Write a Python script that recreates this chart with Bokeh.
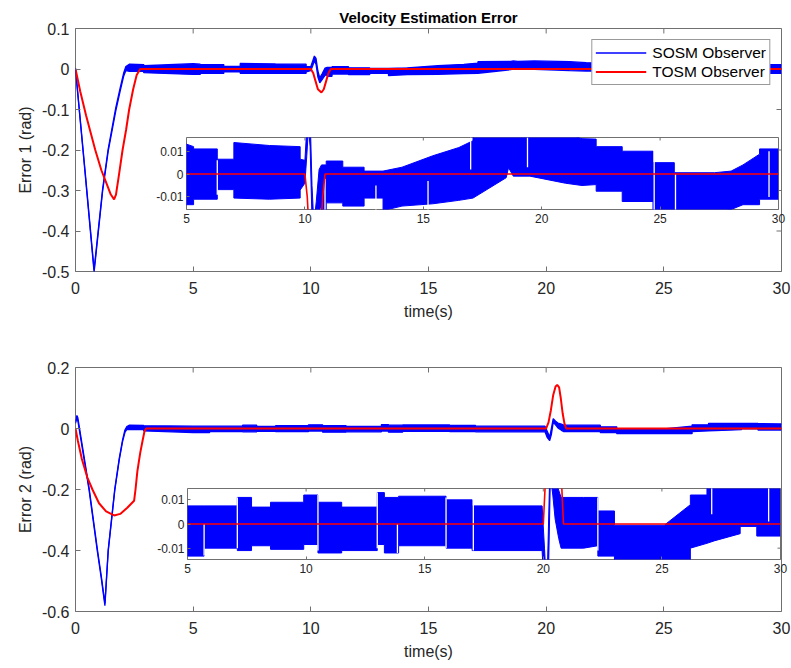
from bokeh.plotting import figure
from bokeh.models import (Range1d, FixedTicker, PrintfTickFormatter,
                          LinearAxis, Legend, LegendItem)
from bokeh.embed import file_html
from bokeh.resources import INLINE

# ---------------- data ----------------
x_ticks = [0, 5, 10, 15, 20, 25, 30]
inset_x_ticks = [5, 10, 15, 20, 25, 30]
e1_ticks = [-0.5, -0.4, -0.3, -0.2, -0.1, 0, 0.1]
e2_ticks = [-0.6, -0.4, -0.2, 0, 0.2]
inset_y_ticks = [-0.01, 0, 0.01]

# SOSM observer, error 1: time, lower / upper edge of the chattering band
sosm1_t = [0, 0.4, 0.79, 1.15, 1.39, 1.71, 1.9, 2.05, 2.14,
           2.3, 2.9, 2.9, 5.0, 5.3, 5.3, 6.3, 6.3, 7.0, 7.0, 8.5, 9.8, 9.8,
           10.0, 10.08, 10.15, 10.22, 10.3, 10.38, 10.48, 10.6, 10.7, 10.7, 10.9, 10.9,
           11.6, 11.6, 12.5, 12.5, 13.3, 13.3, 14.1, 15.4, 16.5, 17.1, 17.1,
           18.5, 18.6, 18.8, 19.5, 21.0, 21.7, 22.3, 22.3, 23.4, 23.4, 24.7, 24.7,
           25.6, 25.6, 27.3, 28.0, 28.5, 29.2, 29.2, 30.0]
sosm1_lo = [-0.002, -0.253, -0.502, -0.303, -0.203, -0.104, -0.054, -0.017, -0.004,
            -0.006, -0.006, -0.009, -0.0134, -0.0134, -0.011, -0.011, -0.0068, -0.0068, -0.0105, -0.011, -0.0105, -0.007,
            -0.004, 0.008, 0.02, 0.012, -0.02, -0.034, -0.026, -0.016, -0.014, -0.018, -0.018, -0.0126,
            -0.0126, -0.014, -0.014, -0.0105, -0.0105, -0.016, -0.014, -0.013, -0.0115, -0.0105, -0.0105,
            -0.0016, 0.0028, -0.0009, -0.0009, -0.004, -0.005, -0.0046, -0.0075, -0.0075, -0.012, -0.012, -0.016,
            -0.016, -0.017, -0.017, -0.0155, -0.0134, -0.0134, -0.011, -0.011]
sosm1_hi = [0.002, -0.247, -0.495, -0.297, -0.197, -0.096, -0.046, -0.009, 0.006,
            0.012, 0.011, 0.008, 0.0131, 0.012, 0.011, 0.011, 0.0065, 0.0065, 0.0138, 0.0125, 0.012, 0.0065,
            0.006, 0.02, 0.032, 0.026, -0.005, -0.022, -0.012, 0.002, 0.004, 0.004, 0.004, 0.0057,
            0.0057, 0.003, 0.003, 0.0013, 0.0013, 0.0013, 0.003, 0.008, 0.0116, 0.0146, 0.018,
            0.019, 0.02, 0.019, 0.02, 0.018, 0.0155, 0.0153, 0.012, 0.012, 0.01, 0.01, 0.005,
            0.005, 0.0006, 0.0006, 0.0013, 0.004, 0.0087, 0.011, 0.011]

# TOSM observer, error 1
tosm1_t = [0, 0.2, 0.45, 0.84, 1.1, 1.3, 1.5, 1.64, 1.72, 1.85, 2.0, 2.15, 2.28, 2.45, 2.6, 2.75,
           10.0, 10.1, 10.2, 10.3, 10.45, 10.55, 10.65, 10.75, 10.85, 30.0]
tosm1_v = [0, -0.055, -0.115, -0.2, -0.25, -0.28, -0.31, -0.322, -0.31, -0.26, -0.2, -0.15, -0.1, -0.05, -0.015, 0,
           0, -0.01, -0.03, -0.05, -0.058, -0.05, -0.03, -0.01, 0, 0]

# white gaps inside the band (inset 1): time, from, to
gap1_t = [6.3, 10.85, 13.0, 15.2, 17.0, 19.4, 24.75, 25.65, 29.6]
gap1_lo = [-0.009, -0.016, -0.016, -0.016, 0.002, 0.003, -0.016, -0.016, -0.01]
gap1_hi = [0.006, -0.002, -0.005, -0.003, 0.016, 0.016, 0.01, 0.0, 0.01]

# SOSM observer, error 2
sosm2_t = [0, 0.06, 0.1, 0.58, 0.93, 1.1, 1.25, 1.39, 1.67, 1.86, 2.0, 2.1, 2.18,
           2.3, 2.9, 2.9, 5.0, 5.7, 5.7, 7.1, 7.1, 7.7, 7.7, 8.5, 8.5, 9.9, 9.9, 10.5, 10.5,
           11.5, 11.5, 13.0, 13.0, 13.3, 13.3, 13.9, 13.9, 15.9, 15.9, 17.0, 17.0,
           19.95, 20.05, 20.15, 20.22, 20.3, 20.4, 20.5, 20.65, 20.75, 21.7, 22.3, 22.3,
           23.0, 23.0, 25.1, 26.2, 26.2, 26.9, 26.9, 27.2, 28.3, 28.3, 29.0, 29.0, 30.0]
sosm2_lo = [0.017, 0.035, 0.025, -0.204, -0.404, -0.494, -0.581, -0.403, -0.203, -0.103, -0.043, -0.013, -0.003,
            -0.004, -0.004, -0.008, -0.0133, -0.0133, -0.01, -0.01, -0.011, -0.011, -0.009, -0.009, -0.0105, -0.0105, -0.0085, -0.0085, -0.012,
            -0.012, -0.011, -0.011, -0.0085, -0.0085, -0.012, -0.012, -0.009, -0.009, -0.01, -0.01, -0.011,
            -0.011, -0.03, -0.04, -0.02, 0.02, 0.012, 0.002, -0.006, -0.01, -0.01, -0.009, -0.0133,
            -0.0133, -0.017, -0.017, -0.017, -0.01, -0.008, -0.008, -0.007, -0.004, -0.001, -0.001, -0.005, -0.005]
sosm2_hi = [0.023, 0.043, 0.035, -0.196, -0.396, -0.486, -0.573, -0.397, -0.197, -0.097, -0.037, -0.005, 0.006,
            0.011, 0.01, 0.009, 0.0075, 0.0075, 0.0075, 0.0075, 0.011, 0.011, 0.007, 0.007, 0.009, 0.009, 0.012, 0.012, 0.009,
            0.009, 0.007, 0.007, 0.013, 0.013, 0.011, 0.011, 0.0115, 0.0115, 0.01, 0.01, 0.0075,
            0.0075, -0.01, -0.028, 0.0, 0.032, 0.024, 0.018, 0.014, 0.011, 0.011, 0.011, 0.0054,
            0.0054, -0.0005, -0.0005, 0.008, 0.012, 0.012, 0.017, 0.017, 0.017, 0.017, 0.017, 0.016, 0.015]

# TOSM observer, error 2
tosm2_t = [0, 0.1, 0.27, 0.5, 0.72, 1.0, 1.3, 1.64, 1.9, 2.2, 2.49, 2.55, 2.63, 2.75, 2.85, 2.93, 3.0,
           20.0, 20.1, 20.2, 20.3, 20.4, 20.47, 20.55, 20.62, 20.7, 20.78, 20.85, 30.0]
tosm2_v = [0, -0.04, -0.1, -0.16, -0.2, -0.245, -0.272, -0.285, -0.28, -0.26, -0.237, -0.2, -0.14, -0.08, -0.04, -0.01, 0,
           0, 0.02, 0.06, 0.11, 0.138, 0.143, 0.135, 0.1, 0.05, 0.015, 0, 0]

gap2_t = [5.7, 7.1, 10.5, 13.0, 13.85, 15.9, 17.05, 22.3, 27.1, 29.5]
gap2_lo = [-0.013, -0.01, -0.011, -0.01, -0.012, -0.01, -0.011, -0.011, 0.004, 0.001]
gap2_hi = [0.0, 0.011, 0.012, 0.013, 0.0, 0.011, 0.01, 0.011, 0.015, 0.015]

for a, b, c in ((sosm1_t, sosm1_lo, sosm1_hi), (sosm2_t, sosm2_lo, sosm2_hi)):
    assert len(a) == len(b) == len(c), (len(a), len(b), len(c))

# ---------------- styling ----------------
W, H = 791, 668
FONT = "Liberation Sans"
TXT = "#262626"
BOX = "#707070"
BLUE = "#0000ff"
RED = "#ff0000"


def make_fig(xr, yr, xticks, yticks, borders, fs, tick_len, xstand, ystand):
    L, R, T, B = borders
    p = figure(width=W, height=H, x_range=Range1d(*xr), y_range=Range1d(*yr),
               output_backend="svg", toolbar_location=None,
               x_axis_type=None, y_axis_type=None,
               min_border_left=L, min_border_right=R, min_border_top=T, min_border_bottom=B)
    p.styles = {"position": "absolute", "left": "0px", "top": "0px"}
    p.border_fill_color = None
    p.background_fill_color = "white"
    p.outline_line_color = BOX
    p.outline_line_width = 1
    axes = {}
    for loc, ticks in (("below", xticks), ("left", yticks)):
        ax = LinearAxis(ticker=FixedTicker(ticks=ticks), formatter=PrintfTickFormatter(format="%g"))
        ax.axis_line_color = None
        ax.major_tick_in = tick_len
        ax.major_tick_out = 0
        ax.major_tick_line_color = BOX
        ax.minor_tick_line_color = None
        ax.major_label_text_font = FONT
        ax.major_label_text_color = TXT
        ax.major_label_text_font_size = fs
        ax.major_label_standoff = xstand if loc == "below" else ystand
        p.add_layout(ax, loc)
        axes[loc] = ax
    # box ticks on the top and right edges (no labels), pointing inwards
    p.ray(x=xticks, y=[yr[1]] * len(xticks), length=tick_len, length_units="screen",
          angle=-90, angle_units="deg", line_color=BOX, line_width=1)
    p.ray(x=[xr[1]] * len(yticks), y=yticks, length=tick_len, length_units="screen",
          angle=180, angle_units="deg", line_color=BOX, line_width=1)
    return p, axes


def style_label(ax, text, standoff):
    ax.axis_label = text
    ax.axis_label_text_font = FONT
    ax.axis_label_text_font_size = "16px"
    ax.axis_label_text_font_style = "normal"
    ax.axis_label_text_color = TXT
    ax.axis_label_standoff = standoff


# ---------------- main plot 1 ----------------
p1, a1 = make_fig((0, 30), (-0.5, 0.1), x_ticks, e1_ticks, (75, 10, 28, 397), "16px", 5, 10, 6)
style_label(a1["below"], "time(s)", 6)
style_label(a1["left"], "Error 1 (rad)", 5)
p1.varea(x=sosm1_t, y1=sosm1_lo, y2=sosm1_hi, fill_color=BLUE)
rb1 = p1.line(sosm1_t, sosm1_hi, line_color=BLUE, line_width=1.3)
p1.line(sosm1_t, sosm1_lo, line_color=BLUE, line_width=1.3)
rr1 = p1.line(tosm1_t, tosm1_v, line_color=RED, line_width=2)
legend = Legend(items=[LegendItem(label="SOSM Observer", renderers=[rb1]),
                       LegendItem(label="TOSM Observer", renderers=[rr1])],
                location="top_right", margin=11, padding=3, spacing=0,
                glyph_width=51, glyph_height=19, label_height=19, label_standoff=6,
                label_text_font=FONT, label_text_font_size="15.5px", label_text_color="#000000",
                border_line_color="#333333", border_line_width=1,
                background_fill_color="white", background_fill_alpha=1)
p1.add_layout(legend)
p1.title.text = "Velocity Estimation Error"
p1.title.align = "center"
p1.title.text_font = FONT
p1.title.text_font_size = "15px"
p1.title.text_font_style = "bold"
p1.title.text_color = "#000000"
p1.title.standoff = 6

# ---------------- main plot 2 ----------------
p2, a2 = make_fig((0, 30), (-0.6, 0.2), x_ticks, e2_ticks, (75, 10, 367, 57), "16px", 5, 10, 6)
style_label(a2["below"], "time(s)", 6)
style_label(a2["left"], "Error 2 (rad)", 5)
p2.varea(x=sosm2_t, y1=sosm2_lo, y2=sosm2_hi, fill_color=BLUE)
p2.line(sosm2_t, sosm2_hi, line_color=BLUE, line_width=1.3)
p2.line(sosm2_t, sosm2_lo, line_color=BLUE, line_width=1.3)
p2.line(tosm2_t, tosm2_v, line_color=RED, line_width=2)

# ---------------- inset 1 ----------------
i1, _ = make_fig((5, 30), (-0.0155, 0.016), inset_x_ticks, inset_y_ticks,
                 (186, 13, 137, 459), "12px", 3, 4, 3)
i1.varea(x=sosm1_t, y1=sosm1_lo, y2=sosm1_hi, fill_color=BLUE)
i1.line(sosm1_t, sosm1_hi, line_color=BLUE, line_width=1)
i1.line(sosm1_t, sosm1_lo, line_color=BLUE, line_width=1)
i1.segment(x0=gap1_t, y0=gap1_lo, x1=gap1_t, y1=gap1_hi, line_color="white", line_width=1.3)
i1.line(tosm1_t, tosm1_v, line_color=RED, line_width=1.6)

# ---------------- inset 2 ----------------
i2, _ = make_fig((5, 30), (-0.0147, 0.0147), inset_x_ticks, inset_y_ticks,
                 (187, 11, 488, 109), "12px", 3, 4, 3)
i2.varea(x=sosm2_t, y1=sosm2_lo, y2=sosm2_hi, fill_color=BLUE)
i2.line(sosm2_t, sosm2_hi, line_color=BLUE, line_width=1)
i2.line(sosm2_t, sosm2_lo, line_color=BLUE, line_width=1)
i2.segment(x0=gap2_t, y0=gap2_lo, x1=gap2_t, y1=gap2_hi, line_color="white", line_width=1.3)
i2.line(tosm2_t, tosm2_v, line_color=RED, line_width=1.6)

with open("out.html", "w") as f:
    f.write(file_html([p1, p2, i1, i2], INLINE))
